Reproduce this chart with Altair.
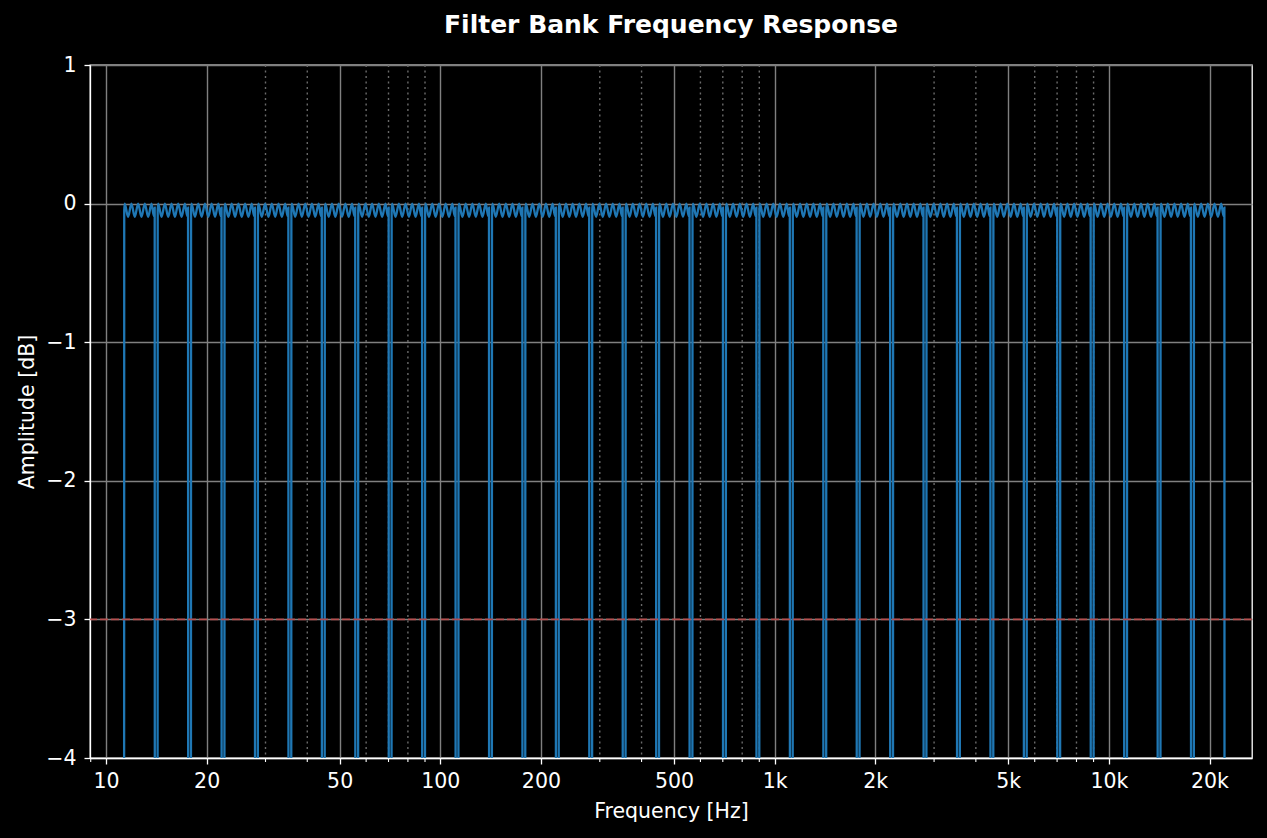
import altair as alt
import pandas as pd

# ---- data ----
# 1/3-octave band edge frequencies [Hz] where the response dips
band_edges = [11.22, 14.13, 17.78, 22.39, 28.18, 35.48, 44.67, 56.23, 70.79, 89.13,
              112.2, 141.3, 177.8, 223.9, 281.8, 354.8, 446.7, 562.3, 707.9, 891.3,
              1122, 1413, 1778, 2239, 2818, 3548, 4467, 5623, 7079, 8913,
              11220, 14130, 17780, 22390]
# measured response shape inside one band (position as fraction of band, level in dB)
band_pos = [0.0, 0.045, 0.06, 0.16, 0.26, 0.36, 0.46, 0.56, 0.66, 0.76, 0.86, 0.93, 0.955, 1.0]
band_db = [-60, -0.05, 0.0, -0.095, 0.0, -0.095, 0.0, -0.095, 0.0, -0.095, 0.0, -0.09, -0.03, -60]

major_ticks = [10, 20, 50, 100, 200, 500, 1000, 2000, 5000, 10000, 20000]
minor_ticks = [9, 30, 40, 60, 70, 80, 90, 300, 400, 600, 700, 800, 900,
               3000, 4000, 6000, 7000, 8000, 9000]
minor_grid_lines = [30, 40, 60, 70, 80, 90, 300, 400, 600, 700, 800, 900,
                    3000, 4000, 6000, 7000, 8000, 9000]
y_ticks = [-4, -3, -2, -1, 0, 1]
ref_level = [-3]
title_text = ["Filter Bank Frequency Response"]

rows = []
k = 0
for i in range(len(band_edges) - 1):
    lo, hi = band_edges[i], band_edges[i + 1]
    for u, d in zip(band_pos, band_db):
        rows.append({"f": lo * (hi / lo) ** u, "db": d, "idx": k})
        k += 1
resp = pd.DataFrame(rows)

W, H = 1162, 693
FONT = "DejaVu Sans"
xscale = alt.Scale(type="log", domain=[8.956, 26800], nice=False)
yscale = alt.Scale(domain=[-4, 1], nice=False)

xaxis = alt.Axis(values=major_ticks, title="Frequency [Hz]",
                 labelExpr="datum.value >= 1000 ? (datum.value/1000) + 'k' : datum.value",
                 grid=True, gridColor="#808080", gridWidth=1.4,
                 tickColor="#ffffff", tickSize=6, tickWidth=1.3,
                 labelColor="#ffffff", labelFontSize=20.5, labelFont=FONT,
                 labelPadding=7, labelFlush=False, labelOverlap=False,
                 domainColor="#ffffff", domainWidth=1.3,
                 titleColor="#ffffff", titleFontSize=20.5, titleFont=FONT,
                 titleFontWeight="normal", titleBaseline="alphabetic",
                 titleY=59, titleX=W / 2)
yaxis = alt.Axis(values=y_ticks, title="Amplitude [dB]",
                 labelExpr="datum.value < 0 ? '\u2212' + abs(datum.value) : '' + datum.value",
                 grid=True, gridColor="#808080", gridWidth=1.4,
                 tickColor="#ffffff", tickSize=6, tickWidth=1.3,
                 labelColor="#ffffff", labelFontSize=20.5, labelFont=FONT,
                 labelPadding=8, labelFlush=False,
                 domainColor="#ffffff", domainWidth=1.3,
                 titleColor="#ffffff", titleFontSize=20.5, titleFont=FONT,
                 titleFontWeight="normal", titleBaseline="alphabetic",
                 titleX=-57, titleY=H / 2, titleAngle=-90)

line = alt.Chart(resp).mark_line(color="#1f77b4", strokeWidth=2.3, clip=True,
                                 interpolate="monotone").encode(
    x=alt.X("f:Q", scale=xscale, axis=xaxis),
    y=alt.Y("db:Q", scale=yscale, axis=yaxis),
    order="idx:Q",
)

minor_grid = alt.Chart(pd.DataFrame({"f": minor_grid_lines})).mark_rule(
    color="#6a6a6a", strokeWidth=1.4, strokeDash=[2, 3.5]
).encode(x=alt.X("f:Q", scale=xscale, axis=xaxis))
minor_tick = alt.Chart(pd.DataFrame({"f": minor_ticks})).mark_rule(
    color="#ffffff", strokeWidth=1.1, clip=False
).encode(
    x=alt.X("f:Q", scale=xscale, axis=xaxis),
    y=alt.value(H), y2=alt.value(H + 4),
)

ref = alt.Chart(pd.DataFrame({"db": ref_level})).mark_rule(
    color="#c04848", strokeWidth=1.8, strokeDash=[8, 3], opacity=0.85
).encode(y=alt.Y("db:Q", scale=yscale, axis=yaxis))

title = alt.Chart(pd.DataFrame({"t": title_text})).mark_text(
    font=FONT, fontSize=25, fontWeight="bold", color="#ffffff",
    align="center", baseline="alphabetic", clip=False
).encode(text="t:N", x=alt.value(W / 2), y=alt.value(-32))

chart = alt.layer(minor_grid, line, ref, minor_tick, title).properties(
    width=W, height=H,
    autosize=alt.AutoSizeParams(type="none"),
    padding={"left": 90, "top": 65, "right": 15, "bottom": 80},
    background="#000000",
).configure_view(stroke="#ffffff", strokeWidth=1.3)

chart.save("out.html", embed_options={"renderer": "svg", "actions": False})
